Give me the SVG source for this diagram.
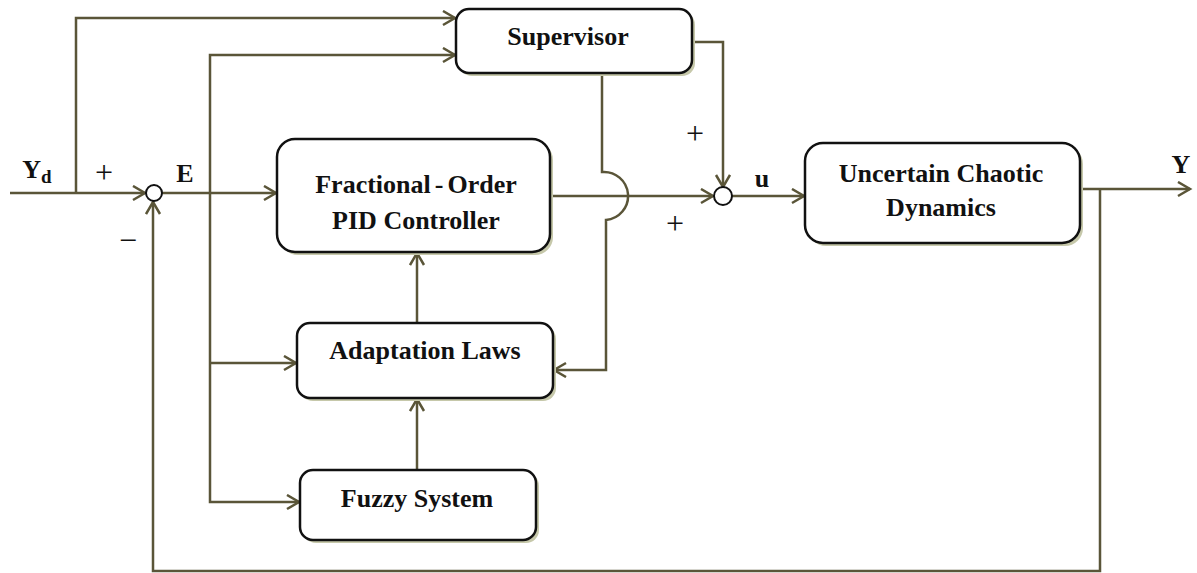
<svg xmlns="http://www.w3.org/2000/svg" width="1197" height="573" viewBox="0 0 1197 573">
<style>
.box{fill:#ffffff;stroke:#111111;stroke-width:2.5}
.shadow{fill:#c6c8aa}
.lbl{font-family:"Liberation Serif","Times New Roman",serif;font-weight:bold;font-size:26px;fill:#111111;text-anchor:middle}
.sign{font-family:"Liberation Serif","Times New Roman",serif;font-size:32px;fill:#111111;text-anchor:middle}
.wire{fill:none;stroke:#5a5538;stroke-width:2.5}
.sum{fill:#ffffff;stroke:#111111;stroke-width:2}
</style>
<defs>
<marker id="arr" markerUnits="userSpaceOnUse" markerWidth="16" markerHeight="18" refX="13" refY="8" orient="auto">
<path d="M1,1 L13,8 L1,15" fill="none" stroke="#5a5538" stroke-width="2.5"/>
</marker>
</defs>
<rect width="1197" height="573" fill="#ffffff"/>

<g id="connectors">
<path class="wire" d="M10,193 L145,193" marker-end="url(#arr)"/>
<path class="wire" d="M76,193 L76,18 L455,18" marker-end="url(#arr)"/>
<path class="wire" d="M162,193 L276,193" marker-end="url(#arr)"/>
<path class="wire" d="M210,193 L210,55 L455,55" marker-end="url(#arr)"/>
<path class="wire" d="M210,193 L210,502 L299,502" marker-end="url(#arr)"/>
<path class="wire" d="M210,363 L296,363" marker-end="url(#arr)"/>
<path class="wire" d="M550,196 L713,196" marker-end="url(#arr)"/>
<path class="wire" d="M602,73 L602,172 A24,24 0 0 1 606,220 L606,370 L554,370" marker-end="url(#arr)"/>
<path class="wire" d="M692,42 L723,42 L723,187" marker-end="url(#arr)"/>
<path class="wire" d="M732,196 L804,196" marker-end="url(#arr)"/>
<path class="wire" d="M1080,189 L1190,189" marker-end="url(#arr)"/>
<path class="wire" d="M1100,189 L1100,571 L153,571 L153,202" marker-end="url(#arr)"/>
<path class="wire" d="M417,322 L417,253" marker-end="url(#arr)"/>
<path class="wire" d="M417,470 L417,399" marker-end="url(#arr)"/>
</g>

<g id="sum1"><circle class="sum" cx="154" cy="193" r="8"/></g>
<g id="sum2"><circle class="sum" cx="723" cy="196" r="9"/></g>

<g id="supervisor">
<rect class="shadow" x="459" y="12" width="236" height="64" rx="13"/>
<rect class="box" x="456" y="9" width="236" height="64" rx="13"/>
<text class="lbl" x="568" y="45">Supervisor</text>
</g>

<g id="pid">
<rect class="shadow" x="280" y="142" width="273" height="113" rx="18"/>
<rect class="box" x="277" y="139" width="273" height="113" rx="18"/>
<text class="lbl" x="416" y="193">Fractional<tspan dx="4">-</tspan><tspan dx="4">Order</tspan></text>
<text class="lbl" x="416" y="229">PID Controller</text>
</g>

<g id="plant">
<rect class="shadow" x="808" y="146" width="275" height="100" rx="18"/>
<rect class="box" x="805" y="143" width="275" height="100" rx="18"/>
<text class="lbl" x="941" y="182">Uncertain Chaotic</text>
<text class="lbl" x="941" y="216">Dynamics</text>
</g>

<g id="adaptation">
<rect class="shadow" x="300" y="326" width="256" height="75" rx="13"/>
<rect class="box" x="297" y="323" width="256" height="75" rx="13"/>
<text class="lbl" x="425" y="359">Adaptation Laws</text>
</g>

<g id="fuzzy">
<rect class="shadow" x="303" y="473" width="236" height="70" rx="13"/>
<rect class="box" x="300" y="470" width="236" height="70" rx="13"/>
<text class="lbl" x="417" y="507">Fuzzy System</text>
</g>

<g id="labels">
<text class="lbl" x="37" y="178">Y<tspan font-size="19" dy="5">d</tspan></text>
<text class="sign" x="104" y="183">+</text>
<text class="lbl" x="185" y="182">E</text>
<text class="sign" x="128" y="251">−</text>
<text class="sign" x="695" y="144">+</text>
<text class="sign" x="675" y="234">+</text>
<text class="lbl" x="762" y="187">u</text>
<text class="lbl" x="1181" y="173">Y</text>
</g>
</svg>
